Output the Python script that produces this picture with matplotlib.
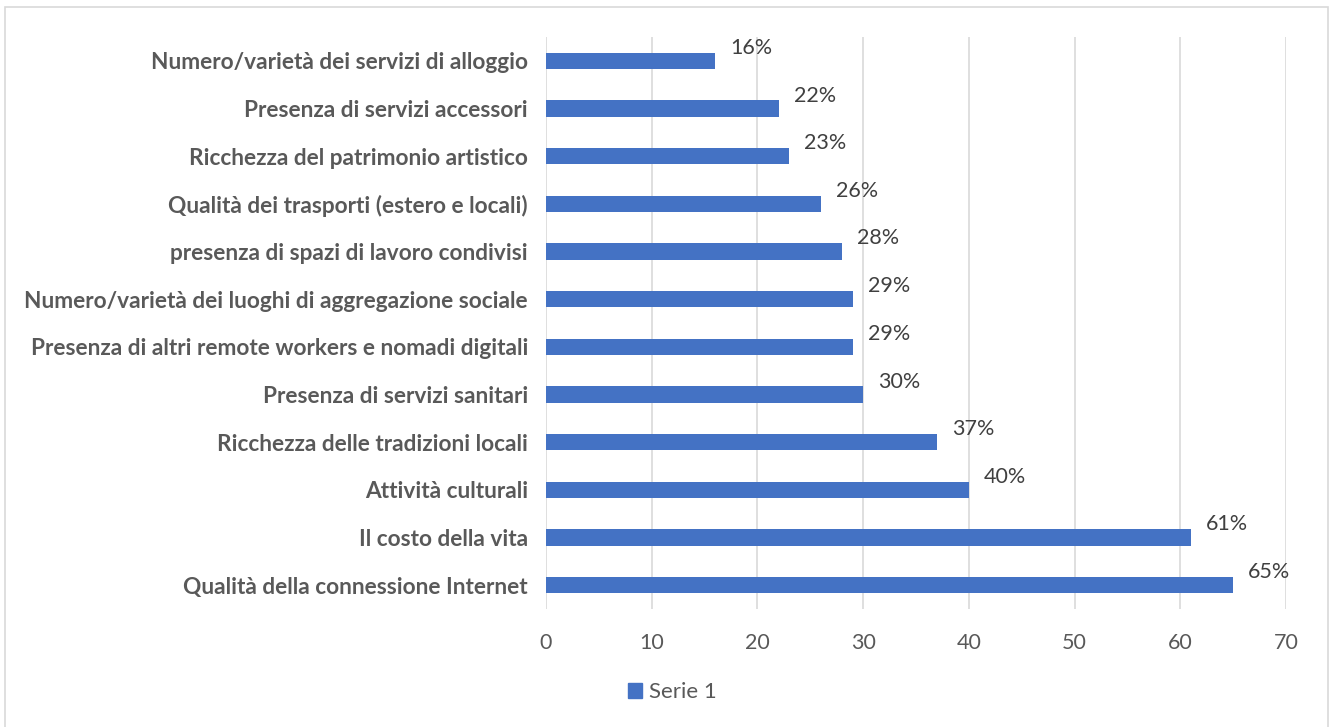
import matplotlib
matplotlib.use("Agg")
import matplotlib.pyplot as plt
from matplotlib.patches import Rectangle, Patch

# survey factors, listed bottom to top
categories = [
    "Qualità della connessione Internet",
    "Il costo della vita",
    "Attività culturali",
    "Ricchezza delle tradizioni locali",
    "Presenza di servizi sanitari",
    "Presenza di altri remote workers e nomadi digitali",
    "Numero/varietà dei luoghi di aggregazione sociale",
    "presenza di spazi di lavoro condivisi",
    "Qualità dei trasporti (estero e locali)",
    "Ricchezza del patrimonio artistico",
    "Presenza di servizi accessori",
    "Numero/varietà dei servizi di alloggio",
]
values = [65, 61, 40, 37, 30, 29, 29, 28, 26, 23, 22, 16]
xticks = [0, 10, 20, 30, 40, 50, 60, 70]

BLUE = "#4472C4"
TXT = "#595959"
GRID = "#D9D9D9"
FONT = "Lato"

fig = plt.figure(figsize=(13.35, 7.27), dpi=100)
fig.patch.set_facecolor("white")

# thin chart-area frame
fig.add_artist(Rectangle((5 / 1335, -0.01), 1323 / 1335, 1 - 7 / 727 + 0.01,
                         transform=fig.transFigure, fill=False,
                         edgecolor="#D9D9D9", linewidth=1.2))

ax = fig.add_axes([546 / 1335, 1 - 609 / 727, 740 / 1335, 572 / 727])
pos = list(range(len(categories)))
ax.barh(pos, values, height=0.34, color=BLUE, zorder=3)

for y, v in zip(pos, values):
    ax.annotate(f"{v}%", (v, y), xytext=(15, 13), textcoords="offset pixels",
                ha="left", va="center", fontsize=15.5, color="#404040",
                family=FONT)

ax.set_xlim(0, 70)
ax.set_ylim(-0.5, len(categories) - 0.5)
ax.set_xticks(xticks)
ax.set_xticklabels([str(t) for t in xticks], fontsize=15.5, color=TXT,
                   family=FONT)
ax.set_yticks(pos)
ax.set_yticklabels(categories, fontsize=16.3, color=TXT, family=FONT,
                   fontweight="bold")
ax.tick_params(axis="x", length=0, pad=17)
ax.tick_params(axis="y", length=0, pad=13)
ax.grid(axis="x", color=GRID, linewidth=1.2, zorder=0)
for s in ax.spines.values():
    s.set_visible(False)

fig.legend(handles=[Patch(color=BLUE)], labels=["Serie 1"],
           loc="center", bbox_to_anchor=(672 / 1335, 1 - 692 / 727),
           frameon=False, handlelength=0.65, handleheight=0.65,
           handletextpad=0.3, prop={"family": FONT, "size": 16},
           labelcolor=TXT)

fig.savefig("out.png", dpi=100, facecolor="white")
